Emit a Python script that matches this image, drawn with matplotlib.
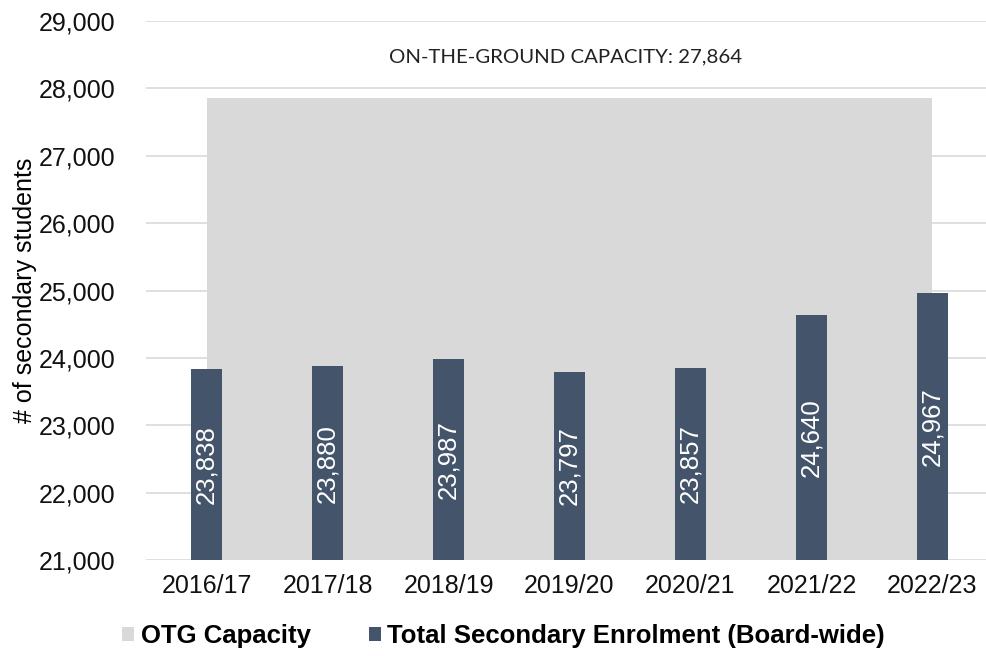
import matplotlib.pyplot as plt
import numpy as np

# data
years = ['2016/17', '2017/18', '2018/19', '2019/20', '2020/21', '2021/22', '2022/23']
enrolment = [23838, 23880, 23987, 23797, 23857, 24640, 24967]
otg_capacity = 27864

bar_color = '#44546A'
cap_color = '#D9D9D9'
grid_color = '#D9D9D9'

plt.rcParams['font.family'] = ['Liberation Sans', 'DejaVu Sans']

fig = plt.figure(figsize=(9.87, 6.56), dpi=100)
ax = fig.add_axes([0.148, 0.146, 0.858, 0.822])

x = np.arange(len(years))

# capacity drawn as an area from first to last category centre
ax.fill_between(x, [otg_capacity] * len(x), 21000, color=cap_color, zorder=1,
                label='OTG Capacity', linewidth=0)
bars = ax.bar(x, enrolment, width=0.25, color=bar_color, zorder=2,
              label='Total Secondary Enrolment (Board-wide)')

for xi, v in zip(x, enrolment):
    ax.text(xi, (21000 + v) / 2, f'{v:,}', rotation=90, ha='center', va='center',
            color='white', fontsize=18.5, zorder=3)

ax.text((x[0] + x[-1]) / 2 - 0.035, 28470, f'ON-THE-GROUND CAPACITY: {otg_capacity:,}',
        ha='center', va='center', fontsize=14.7, family=['Lato', 'DejaVu Sans'],
        color='#222222', zorder=3)

ax.set_xlim(-0.5, len(years) - 0.5)
ax.set_ylim(21000, 29000)
ax.set_yticks(np.arange(21000, 29001, 1000))
ax.set_yticklabels([f'{t:,}' for t in range(21000, 29001, 1000)])
ax.set_xticks(x)
ax.set_xticklabels(years)
ax.tick_params(axis='both', length=0, labelsize=18, colors='#111111')
ax.tick_params(axis='x', pad=10)
ax.tick_params(axis='y', pad=22)

ax.yaxis.grid(True, color=grid_color, linewidth=1.2, zorder=0)
ax.set_axisbelow(True)
for s in ax.spines.values():
    s.set_visible(False)

ax.set_ylabel('# of secondary students', fontsize=18, labelpad=1)

fig.legend(loc='center', bbox_to_anchor=(0.5 + 10 / 987, 1 - 636 / 656), ncol=2,
           frameon=False, prop={'weight': 'bold', 'size': 18.5}, handlelength=0.47,
           handleheight=0.47, handletextpad=0.25, columnspacing=2.25)

fig.savefig('out.png', dpi=100)
